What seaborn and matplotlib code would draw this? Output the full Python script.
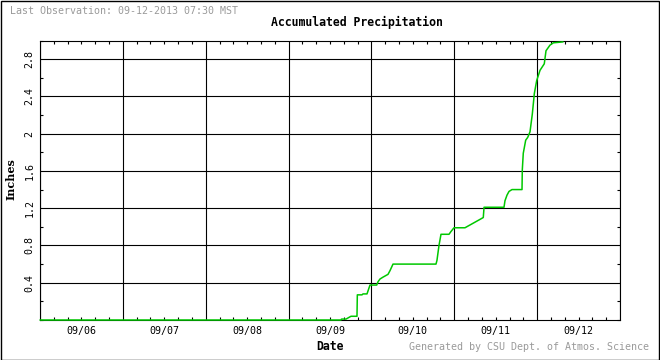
import matplotlib
matplotlib.use("Agg")
import pandas as pd
import matplotlib.pyplot as plt
import matplotlib.dates as mdates
from matplotlib.ticker import MultipleLocator, FixedLocator, FixedFormatter, NullFormatter, FuncFormatter
from matplotlib.patches import Rectangle
import seaborn as sns

# Accumulated precipitation, 09/06 - 09/12 2013
times = [
    "2013-09-06 00:00", "2013-09-09 15:11", "2013-09-09 15:20", "2013-09-09 16:38",
    "2013-09-09 18:05", "2013-09-09 19:49", "2013-09-09 19:55", "2013-09-09 21:16",
    "2013-09-09 21:34", "2013-09-09 22:43", "2013-09-09 23:35", "2013-09-10 01:32",
    "2013-09-10 01:54", "2013-09-10 02:29", "2013-09-10 03:21", "2013-09-10 04:48",
    "2013-09-10 05:23", "2013-09-10 06:15", "2013-09-10 18:42", "2013-09-10 18:59",
    "2013-09-10 19:34", "2013-09-10 20:09", "2013-09-10 22:28", "2013-09-10 23:03",
    "2013-09-10 23:55", "2013-09-11 03:06", "2013-09-11 04:33", "2013-09-11 06:00",
    "2013-09-11 07:27", "2013-09-11 08:24", "2013-09-11 08:37", "2013-09-11 14:24",
    "2013-09-11 14:41", "2013-09-11 15:16", "2013-09-11 15:51", "2013-09-11 16:43",
    "2013-09-11 19:37", "2013-09-11 19:42", "2013-09-11 19:59", "2013-09-11 20:41",
    "2013-09-11 21:16", "2013-09-11 21:56", "2013-09-11 22:36", "2013-09-11 23:11",
    "2013-09-11 23:52", "2013-09-12 00:50", "2013-09-12 02:04", "2013-09-12 02:34",
    "2013-09-12 03:43", "2013-09-12 04:41", "2013-09-12 07:30",
]
inches = [
    0.00, 0.00, 0.01, 0.01,
    0.04, 0.04, 0.27, 0.27,
    0.28, 0.28, 0.375, 0.375,
    0.41, 0.44, 0.46, 0.49,
    0.53, 0.60, 0.60, 0.64,
    0.80, 0.92, 0.92, 0.95,
    0.99, 0.99, 1.02, 1.05,
    1.08, 1.10, 1.21, 1.21,
    1.28, 1.34, 1.38, 1.40,
    1.40, 1.61, 1.79, 1.93,
    1.96, 2.02, 2.21, 2.43,
    2.57, 2.68, 2.75, 2.89,
    2.95, 2.975, 2.985,
]
ytick_vals = [0.4, 0.8, 1.2, 1.6, 2.0, 2.4, 2.8]
ytick_labels = ["0.4", "0.8", "1.2", "1.6", "2", "2.4", "2.8"]

df = pd.DataFrame({"time": pd.to_datetime(times), "inches": inches})

sns.set_style("ticks")
plt.rcParams["font.family"] = ["DejaVu Sans Mono", "DejaVu Sans"]

W, H = 660, 360
fig = plt.figure(figsize=(6.6, 3.6), dpi=100)
ax = fig.add_axes([40 / W, 1 - 320 / H, 580 / W, 279.5 / H])

sns.lineplot(data=df, x="time", y="inches", color="#00c800", linewidth=1.1,
             ax=ax, zorder=3, clip_on=False)

ax.set_xlim(pd.Timestamp("2013-09-06 00:00"), pd.Timestamp("2013-09-13 00:00"))
ax.set_ylim(0, 3.0)

# x axis: gridlines at midnight, small ticks every 4 h, date label at noon
ax.xaxis.set_major_locator(mdates.DayLocator())
ax.xaxis.set_major_formatter(NullFormatter())
ax.xaxis.set_minor_locator(mdates.HourLocator(byhour=range(0, 24, 4)))
ax.xaxis.set_minor_formatter(FuncFormatter(
    lambda v, p: mdates.num2date(v).strftime("%m/%d") if mdates.num2date(v).hour == 12 else ""))

ax.yaxis.set_major_locator(FixedLocator(ytick_vals))
ax.yaxis.set_major_formatter(FixedFormatter(ytick_labels))
ax.yaxis.set_minor_locator(MultipleLocator(0.2))

ax.grid(True, which="major", color="black", linewidth=0.8)
ax.tick_params(which="both", direction="in", top=True, right=True, colors="black",
               labelsize=7.2, width=0.8)
ax.tick_params(which="major", length=0)
ax.tick_params(which="minor", length=2.5)
ax.tick_params(axis="x", which="minor", pad=4)
ax.tick_params(axis="y", which="major", pad=4)
for lab in ax.get_yticklabels():
    lab.set_rotation(90)
    lab.set_va("center")

for s in ax.spines.values():
    s.set_color("black")
    s.set_linewidth(0.8)
ax.set_xlabel("")
ax.set_ylabel("")

gray = "#9a9a9a"
fig.text(10 / W, 1 - 11 / H, "Last Observation: 09-12-2013 07:30 MST", color=gray,
         fontsize=7.2, ha="left", va="center")
fig.text(357 / W, 1 - 22 / H, "Accumulated Precipitation", color="black",
         fontsize=8.3, fontweight="bold", ha="center", va="center")
fig.text(330 / W, 1 - 347 / H, "Date", color="black",
         fontsize=8.3, fontweight="bold", ha="center", va="center")
fig.text(649 / W, 1 - 347 / H, "Generated by CSU Dept. of Atmos. Science", color=gray,
         fontsize=7.2, ha="right", va="center")
fig.text(11 / W, 1 - 179 / H, "Inches", color="black", family="DejaVu Serif",
         fontsize=8, fontweight="bold", rotation=90, ha="center", va="center")

fig.patches.append(Rectangle((0.5 / W, 0.5 / H), 1 - 1.5 / W, 1 - 1.5 / H,
                             transform=fig.transFigure, fill=False,
                             edgecolor="black", linewidth=1.0))

fig.savefig("out.png", dpi=100)
